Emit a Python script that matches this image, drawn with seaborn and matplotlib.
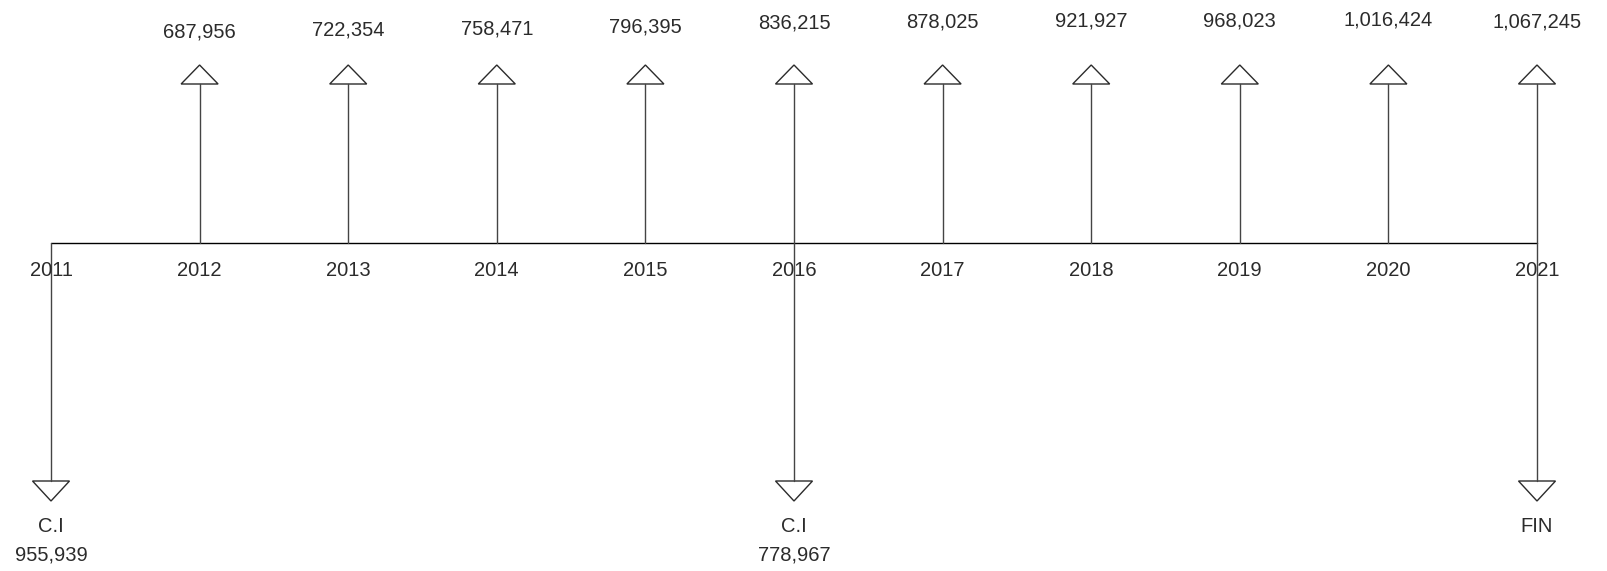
import matplotlib
matplotlib.use("Agg")
import matplotlib.pyplot as plt
from matplotlib.patches import Polygon
import seaborn as sns
import pandas as pd

# cash flow data
years = [2011, 2012, 2013, 2014, 2015, 2016, 2017, 2018, 2019, 2020, 2021]
inflow_years = [2012, 2013, 2014, 2015, 2016, 2017, 2018, 2019, 2020, 2021]
inflows = [687956, 722354, 758471, 796395, 836215, 878025, 921927, 968023, 1016424, 1067245]
outflow_years = [2011, 2016, 2021]
outflow_tags = ["C.I", "C.I", "FIN"]
outflows = [955939, 778967, None]

# layout (pixel rows, y grows downward)
top_label_y = [32, 30, 29, 27, 23, 22, 21, 21, 20, 22]
axis_y = 243
up_tip, up_base = 65, 84
down_base, down_tip = 481, 501
half_w = 18.5 / 148.6  # triangle half width in years

sns.set_theme(style="white")
plt.rcParams['font.family'] = ['Liberation Sans', 'DejaVu Sans']
ink = "#2b2b2b"
lw = 1.0

fig = plt.figure(figsize=(16.08, 5.71), dpi=100)
ax = fig.add_axes([0, 0, 1, 1])
ax.set_xlim(2011 - 51 / 148.6, 2011 + (1608 - 51) / 148.6)
ax.set_ylim(571, 0)
ax.axis("off")

# timeline
tl = pd.DataFrame({"year": [years[0], years[-1]], "y": [axis_y, axis_y]})
sns.lineplot(data=tl, x="year", y="y", ax=ax, color="black", linewidth=lw)

for yr in years:
    ax.text(yr, 270, str(yr), ha="center", va="center", fontsize=14.5, color=ink)

# inflows (up arrows)
for yr, val, ly in zip(inflow_years, inflows, top_label_y):
    ax.plot([yr, yr], [axis_y, up_base], color="#444444", linewidth=lw)
    ax.add_patch(Polygon([(yr - half_w, up_base), (yr + half_w, up_base), (yr, up_tip)],
                         closed=True, facecolor="white", edgecolor=ink, linewidth=lw))
    ax.text(yr, ly, f"{val:,}", ha="center", va="center", fontsize=14.5, color=ink)

# outflows (down arrows)
for yr, tag, val in zip(outflow_years, outflow_tags, outflows):
    ax.plot([yr, yr], [axis_y, down_base], color="#444444", linewidth=lw)
    ax.add_patch(Polygon([(yr - half_w, down_base), (yr + half_w, down_base), (yr, down_tip)],
                         closed=True, facecolor="white", edgecolor=ink, linewidth=lw))
    ax.text(yr, 527, tag, ha="center", va="center", fontsize=14.5, color=ink)
    if val is not None:
        ax.text(yr, 555, f"{val:,}", ha="center", va="center", fontsize=14.5, color=ink)

fig.savefig("out.png", dpi=100)
